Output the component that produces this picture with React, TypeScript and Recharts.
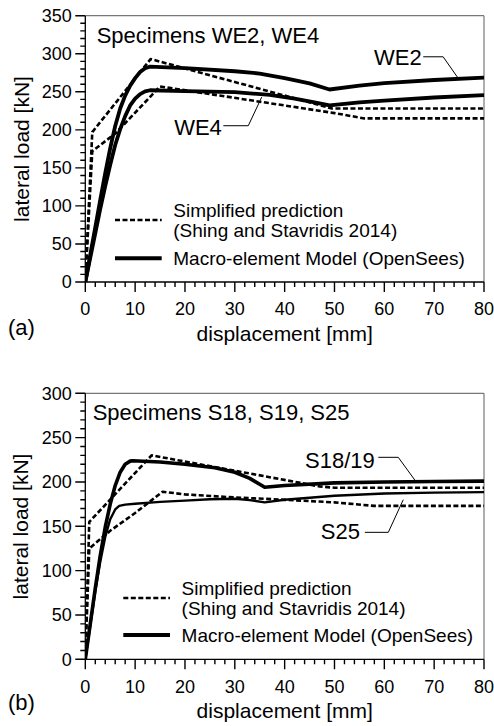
import React from 'react';
import {
  Customized,
  Line,
  LineChart,
  ReferenceDot,
  ReferenceLine,
  XAxis,
  YAxis,
} from 'recharts';

type Pt = { x: number; y: number };

// Specimens WE2, WE4 (load in kN vs displacement in mm)
const we2Model: Pt[] = [
  { x: 0, y: 0 }, { x: 1, y: 36 }, { x: 2, y: 72 }, { x: 3, y: 108 }, { x: 4, y: 143 },
  { x: 5, y: 176 }, { x: 6, y: 205 }, { x: 7, y: 228 }, { x: 8, y: 245 }, { x: 9, y: 258 },
  { x: 10, y: 268 }, { x: 11, y: 276 }, { x: 12, y: 281 }, { x: 13, y: 283 }, { x: 20, y: 281 },
  { x: 30, y: 277 }, { x: 35, y: 274 }, { x: 40, y: 268 }, { x: 45, y: 261 }, { x: 49, y: 253 },
  { x: 55, y: 258 }, { x: 60, y: 261.5 }, { x: 70, y: 265.5 }, { x: 80, y: 268.5 },
];
const we4Model: Pt[] = [
  { x: 0, y: 0 }, { x: 1, y: 32 }, { x: 2, y: 64 }, { x: 3, y: 96 }, { x: 4, y: 126 },
  { x: 5, y: 154 }, { x: 6, y: 180 }, { x: 7, y: 201 }, { x: 8, y: 218 }, { x: 9, y: 232 },
  { x: 10, y: 241 }, { x: 11, y: 247 }, { x: 12, y: 250.5 }, { x: 13, y: 252 }, { x: 20, y: 251 },
  { x: 30, y: 249.5 }, { x: 37, y: 246 }, { x: 42, y: 241 }, { x: 46, y: 236 }, { x: 49, y: 232 },
  { x: 55, y: 236 }, { x: 60, y: 238.5 }, { x: 70, y: 242.5 }, { x: 80, y: 245.5 },
];
const we2Simplified: Pt[] = [
  { x: 0, y: 0 }, { x: 1.4, y: 197 }, { x: 13.1, y: 293 }, { x: 49.5, y: 228 }, { x: 80, y: 228 },
];
const we4Simplified: Pt[] = [
  { x: 0, y: 0 }, { x: 1.4, y: 172 }, { x: 6, y: 195 }, { x: 15, y: 257 }, { x: 50, y: 222 },
  { x: 56, y: 215 }, { x: 80, y: 215 },
];

// Specimens S18, S19, S25
const s1819Model: Pt[] = [
  { x: 0, y: 0 }, { x: 1, y: 40 }, { x: 2, y: 80 }, { x: 3, y: 117 }, { x: 4, y: 149 },
  { x: 5, y: 175 }, { x: 6, y: 196 }, { x: 7, y: 211 }, { x: 8, y: 220 }, { x: 9, y: 223.5 },
  { x: 9.5, y: 224 }, { x: 15, y: 222.5 }, { x: 20, y: 220 }, { x: 26, y: 216 }, { x: 30, y: 211 },
  { x: 33, y: 204 }, { x: 36, y: 194 }, { x: 40, y: 196 }, { x: 50, y: 199 }, { x: 60, y: 200 },
  { x: 70, y: 200.5 }, { x: 80, y: 201 },
];
const s25Model: Pt[] = [
  { x: 0, y: 0 }, { x: 1, y: 38 }, { x: 2, y: 76 }, { x: 3, y: 110 }, { x: 4, y: 138 },
  { x: 5, y: 158 }, { x: 6, y: 169 }, { x: 6.8, y: 173 }, { x: 8, y: 174.5 }, { x: 10, y: 175.5 },
  { x: 15, y: 177.5 }, { x: 20, y: 179 }, { x: 25, y: 180.5 }, { x: 30, y: 181 }, { x: 33, y: 179.5 },
  { x: 36, y: 177 }, { x: 40, y: 180 }, { x: 50, y: 184.5 }, { x: 60, y: 187 }, { x: 70, y: 188 },
  { x: 80, y: 188.5 },
];
const s1819Simplified: Pt[] = [
  { x: 0, y: 0 }, { x: 0.8, y: 155 }, { x: 13.3, y: 230 }, { x: 47, y: 195 }, { x: 50, y: 193.5 },
  { x: 80, y: 193.5 },
];
const s25Simplified: Pt[] = [
  { x: 0, y: 0 }, { x: 0.8, y: 125 }, { x: 5, y: 145 }, { x: 10, y: 165 }, { x: 15.5, y: 189 },
  { x: 20, y: 186 }, { x: 30, y: 182.5 }, { x: 36, y: 181 }, { x: 50, y: 177 }, { x: 58, y: 173 },
  { x: 80, y: 173 },
];

// axis labels
const xLabels = [0, 10, 20, 30, 40, 50, 60, 70, 80];
const xMinorStep = 2;
const loadLabelsA = [0, 50, 100, 150, 200, 250, 300, 350];
const loadLabelsB = [0, 50, 100, 150, 200, 250, 300];
const yMinorStep = 10;

const FONT = '"Liberation Sans", Arial, Helvetica, sans-serif';
const INK = '#000';
const DASH = '5 2.5';
const MINOR_LEN = 5; // px, majors are twice as long
const CHART_W = 494;
const Y_AXIS_W = 85;
const X_AXIS_H = 30;
const RIGHT = 10;
const LEFT = 0.3;
const X_MAX = 80;

function range(max: number, step: number) {
  return Array.from({ length: Math.round(max / step) + 1 }, (_, i) => i * step);
}

const xTicks = range(X_MAX, xMinorStep);

// tickSize/tickMargin are 0, so (x, y) sits on the axis line
function XTick({ x, y, payload }: any) {
  if (!xLabels.includes(payload.value)) return <g />;
  return (
    <text x={x} y={y + 27} dy="0.36em" textAnchor="middle" fontSize={18} fontFamily={FONT} fill={INK}>
      {payload.value}
    </text>
  );
}

function makeYTick(labels: number[]) {
  return function YTick({ x, y, payload }: any) {
    if (!labels.includes(payload.value)) return <g />;
    return (
      <text x={x - 13.5} y={y} dy="0.36em" textAnchor="end" fontSize={18} fontFamily={FONT} fill={INK}>
        {payload.value}
      </text>
    );
  };
}

interface Series {
  data: Pt[];
  width: number;
  dashed?: boolean;
}

interface Tag {
  text: string;
  at: Pt;
  leader: Pt[];
}

interface PanelConfig {
  height: number;
  top: number;
  bottom: number;
  yMax: number;
  yLabels: number[];
  series: Series[];
  tags: Tag[];
  title: string;
  letter: string;
  // static text positions in the svg
  titlePos: [number, number];
  yTitlePos: [number, number];
  xTitleY: number;
  letterY: number;
  legendX: number;
  legendY: [number, number, number];
}

// comb of tick marks along both axes, placed with the same linear mapping as the plot area
function AxisTicks({ cfg }: { cfg: PanelConfig }) {
  const left = LEFT + Y_AXIS_W;
  const right = CHART_W - RIGHT;
  const top = cfg.top;
  const bottom = cfg.height - cfg.bottom - X_AXIS_H;
  const sx = (v: number) => left + (v / X_MAX) * (right - left);
  const sy = (v: number) => bottom - (v / cfg.yMax) * (bottom - top);
  const yTicks = range(cfg.yMax, yMinorStep);
  const d =
    xTicks.map((v) => `M${sx(v)},${bottom}v${(xLabels.includes(v) ? 2 : 1) * MINOR_LEN}`).join('') +
    yTicks.map((v) => `M${left},${sy(v)}h${-(cfg.yLabels.includes(v) ? 2 : 1) * MINOR_LEN}`).join('');
  return <path d={d} stroke={INK} strokeWidth={1.4} fill="none" />;
}

function Overlay({ cfg }: { cfg: PanelConfig }) {
  const [tx, ty] = cfg.titlePos;
  const [yx, yy] = cfg.yTitlePos;
  const [l1, l2, l3] = cfg.legendY;
  const lx = cfg.legendX;
  const txt = { fontFamily: FONT, fill: INK, dy: '0.36em' };
  return (
    <g>
      <AxisTicks cfg={cfg} />
      <text x={tx} y={ty} fontSize={22} {...txt}>{cfg.title}</text>
      <text x={yx} y={yy} fontSize={21} textAnchor="middle" transform={`rotate(-90 ${yx} ${yy})`} {...txt}>
        lateral load [kN]
      </text>
      <text x={284.7} y={cfg.xTitleY} fontSize={21} textAnchor="middle" {...txt}>displacement [mm]</text>
      <text x={8} y={cfg.letterY} fontSize={22} {...txt}>{cfg.letter}</text>
      <line x1={lx} x2={lx + 46.7} y1={(l1 + l2) / 2} y2={(l1 + l2) / 2} stroke={INK} strokeWidth={2.6} strokeDasharray={DASH} />
      <text x={lx + 58.3} y={l1} fontSize={19} {...txt}>Simplified prediction</text>
      <text x={lx + 58.3} y={l2} fontSize={19} {...txt}>(Shing and Stavridis 2014)</text>
      <line x1={lx} x2={lx + 46.7} y1={l3} y2={l3} stroke={INK} strokeWidth={4} />
      <text x={lx + 58.3} y={l3} fontSize={19} {...txt}>Macro-element Model (OpenSees)</text>
    </g>
  );
}

function Panel({ cfg }: { cfg: PanelConfig }) {
  const yTicks = range(cfg.yMax, yMinorStep);
  return (
    <LineChart width={CHART_W} height={cfg.height} margin={{ top: cfg.top, right: RIGHT, bottom: cfg.bottom, left: LEFT }}>
      <XAxis
        type="number"
        dataKey="x"
        domain={[0, X_MAX]}
        ticks={xTicks}
        interval={0}
        tickSize={0}
        tickMargin={0}
        tickLine={false}
        tick={XTick}
        axisLine={{ stroke: INK, strokeWidth: 1.3 }}
        height={X_AXIS_H}
        allowDataOverflow
      />
      <YAxis
        type="number"
        dataKey="y"
        domain={[0, cfg.yMax]}
        ticks={yTicks}
        interval={0}
        tickSize={0}
        tickMargin={0}
        tickLine={false}
        tick={makeYTick(cfg.yLabels)}
        axisLine={{ stroke: INK, strokeWidth: 1.3 }}
        width={Y_AXIS_W}
        allowDataOverflow
      />
      <ReferenceLine y={cfg.yMax} stroke="#777" strokeWidth={1.2} />
      <ReferenceLine x={X_MAX} stroke="#777" strokeWidth={1.2} />
      {cfg.series.map((s, i) => (
        <Line
          key={i}
          data={s.data}
          dataKey="y"
          type="linear"
          stroke={INK}
          strokeWidth={s.width}
          strokeDasharray={s.dashed ? DASH : undefined}
          strokeLinejoin="round"
          dot={false}
          activeDot={false}
          isAnimationActive={false}
        />
      ))}
      {cfg.tags.map((t) =>
        t.leader.slice(1).map((p, j) => (
          <ReferenceLine
            key={`${t.text}-${j}`}
            segment={[t.leader[j], p]}
            stroke={INK}
            strokeWidth={1}
          />
        )),
      )}
      {cfg.tags.map((t) => (
        <ReferenceDot
          key={t.text}
          x={t.at.x}
          y={t.at.y}
          r={0}
          stroke="none"
          fill="none"
          label={{ value: t.text, position: 'left', offset: 0, fontSize: 22, fill: INK, fontFamily: FONT }}
        />
      ))}
      <Customized component={() => <Overlay cfg={cfg} />} />
    </LineChart>
  );
}

const panelA: PanelConfig = {
  height: 350,
  top: 15.7,
  bottom: 38,
  yMax: 350,
  yLabels: loadLabelsA,
  series: [
    { data: we2Simplified, width: 2.6, dashed: true },
    { data: we4Simplified, width: 2.6, dashed: true },
    { data: we2Model, width: 3.8 },
    { data: we4Model, width: 3.8 },
  ],
  tags: [
    { text: 'WE2', at: { x: 67.5, y: 296 }, leader: [{ x: 67.8, y: 296 }, { x: 71.8, y: 296 }, { x: 74.8, y: 268 }] },
    { text: 'WE4', at: { x: 27.4, y: 204 }, leader: [{ x: 27.7, y: 205.4 }, { x: 32.7, y: 205.4 }, { x: 35.4, y: 243 }] },
  ],
  title: 'Specimens WE2, WE4',
  letter: '(a)',
  titlePos: [96.7, 35],
  yTitlePos: [21, 149],
  xTitleY: 333,
  letterY: 327,
  legendX: 115,
  legendY: [210, 230, 258.3],
};

const panelB: PanelConfig = {
  height: 360,
  top: 27.3,
  bottom: 36.7,
  yMax: 300,
  yLabels: loadLabelsB,
  series: [
    { data: s1819Simplified, width: 2.6, dashed: true },
    { data: s25Simplified, width: 2.6, dashed: true },
    { data: s1819Model, width: 3.6 },
    { data: s25Model, width: 2.4 },
  ],
  tags: [
    { text: 'S18/19', at: { x: 58.1, y: 225 }, leader: [{ x: 58.8, y: 227.8 }, { x: 62.8, y: 227.8 }, { x: 66.2, y: 201.5 }] },
    { text: 'S25', at: { x: 55.1, y: 144 }, leader: [{ x: 56.1, y: 143.2 }, { x: 60.8, y: 143.2 }, { x: 63.8, y: 180 }] },
  ],
  title: 'Specimens S18, S19, S25',
  letter: '(b)',
  titlePos: [92.7, 45.7],
  yTitlePos: [20.7, 160.5],
  xTitleY: 344,
  letterY: 336.5,
  legendX: 123.3,
  legendY: [221.7, 242.3, 269],
};

export default function App() {
  return (
    <div style={{ position: 'absolute', left: 0, top: 0, width: 494, height: 726, background: '#fff' }}>
      <div style={{ position: 'absolute', left: 0, top: 0 }}>
        <Panel cfg={panelA} />
      </div>
      <div style={{ position: 'absolute', left: 0, top: 366 }}>
        <Panel cfg={panelB} />
      </div>
    </div>
  );
}
